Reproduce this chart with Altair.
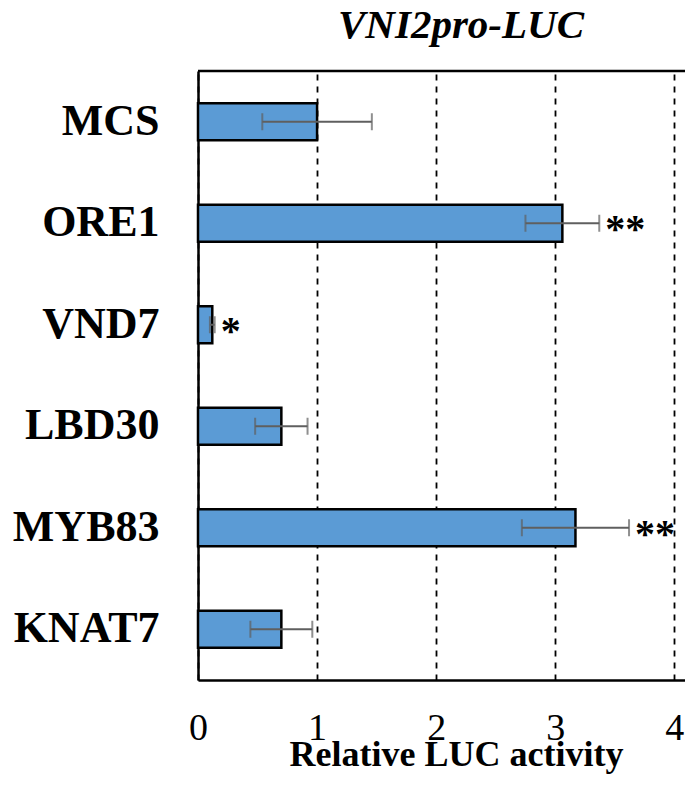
import altair as alt
import pandas as pd

categories = ["MCS", "ORE1", "VND7", "LBD30", "MYB83", "KNAT7"]
values = [1.00, 3.06, 0.12, 0.70, 3.17, 0.70]
errors = [0.46, 0.31, 0.02, 0.22, 0.45, 0.26]
stars = ["", "**", "*", "", "**", ""]
x_ticks = [0, 1, 2, 3, 4]
chart_title = "VNI2pro-LUC"
x_title = "Relative LUC activity"

df = pd.DataFrame({
    "gene": categories,
    "value": values,
    "err": errors,
    "star": stars,
})
df["lo"] = df["value"] - df["err"]
df["hi"] = df["value"] + df["err"]

W, H = 487, 609
FONT = "Liberation Serif"

xscale = alt.Scale(domain=[0, 4.09], nice=False, zero=True)
yenc = alt.Y("gene:N", sort=categories, title=None)

base = alt.Chart(df)

bars = base.mark_bar(size=37, color="#5B9BD5", stroke="black", strokeWidth=2.5).encode(
    x=alt.X("value:Q", scale=xscale,
            axis=alt.Axis(values=x_ticks, format="d", grid=True, gridColor="black",
                          gridDash=[6, 6], gridWidth=1.8, ticks=False, labelFlush=False,
                          labelFont=FONT, labelFontSize=38, labelColor="black",
                          labelPadding=29, domainColor="black", domainWidth=2.5,
                          title=x_title, titleFont=FONT,
                          titleFontWeight="bold", titleFontSize=36, titleColor="black",
                          titleX=258, titleY=85, titleBaseline="alphabetic",
                          titleAlign="center")),
    y=alt.Y("gene:N", sort=categories, title=None,
            scale=alt.Scale(paddingInner=0, paddingOuter=0),
            axis=alt.Axis(ticks=False, labelFont=FONT, labelFontWeight="bold",
                          labelFontSize=44, labelColor="black", labelPadding=39,
                          domainColor="black", domainWidth=2.5, grid=False)),
)

err_rule = base.mark_rule(color="#5f5f5f", strokeWidth=2).encode(
    x=alt.X("lo:Q", scale=xscale), x2="hi:Q", y=yenc)
cap_lo = base.mark_tick(color="#5f5f5f", size=17, thickness=2).encode(
    x=alt.X("lo:Q", scale=xscale), y=yenc)
cap_hi = base.mark_tick(color="#5f5f5f", size=17, thickness=2).encode(
    x=alt.X("hi:Q", scale=xscale), y=yenc)

star_text = base.mark_text(align="left", baseline="alphabetic", dx=6, dy=19,
                           font=FONT, fontWeight="bold", fontSize=40, color="black").encode(
    x=alt.X("hi:Q", scale=xscale), y=yenc, text="star:N")

top_rule = alt.Chart(alt.Data(values=[{"a": 1}])).mark_rule(
    color="black", strokeWidth=2.5).encode(
    x=alt.value(0), x2=alt.value(W), y=alt.value(0))

title_text = alt.Chart(alt.Data(values=[{"t": chart_title}])).mark_text(
    font=FONT, fontStyle="italic", fontWeight="bold", fontSize=41, color="black",
    align="center", baseline="alphabetic").encode(
    x=alt.value(263), y=alt.value(-33), text="t:N")

chart = alt.layer(bars, err_rule, cap_lo, cap_hi, star_text, top_rule, title_text).properties(
    width=W, height=H,
    autosize=alt.AutoSizeParams(type="none"),
    padding={"left": 190, "top": 63, "right": 0, "bottom": 97},
).configure_view(stroke=None).configure(background="white")

chart.save("out.html", embed_options={"renderer": "svg", "actions": False})
